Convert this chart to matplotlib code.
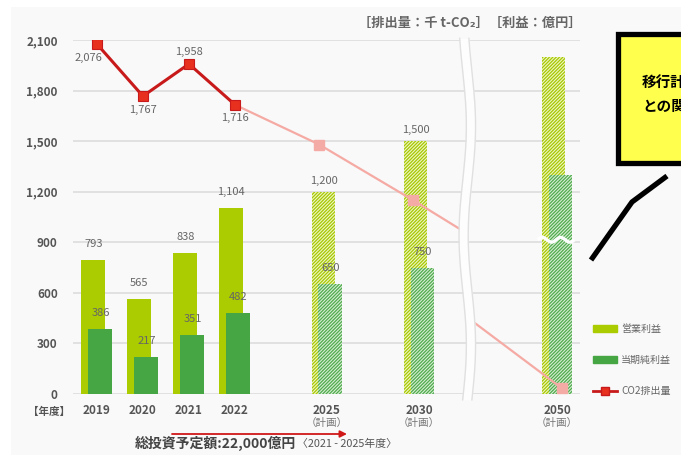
import numpy as np
import matplotlib
matplotlib.use("Agg")
import matplotlib.pyplot as plt
from matplotlib.patches import Rectangle, Patch
from matplotlib.lines import Line2D

plt.rcParams['font.family'] = ['Noto Sans CJK JP', 'DejaVu Sans']
plt.rcParams['hatch.linewidth'] = 0.9

# values (千 t-CO2 / 億円)
years = ['2019', '2020', '2021', '2022', '2025', '2030', '2050']
planned = [False, False, False, False, True, True, True]
op_profit = [793, 565, 838, 1104, 1200, 1500, 2000]
net_profit = [386, 217, 351, 482, 650, 750, 1300]
show_label = [True, True, True, True, True, True, False]
co2_actual = [2076, 1767, 1958, 1716]
co2_plan = [1716, 1480, 1150, 975, 430, 35]   # 2022 -> 2025 -> 2030 -> (break) -> 2050
co2_plan_marked = [False, True, True, False, False, True]

# layout
W, H = 681, 455
slots = [0, 1, 2, 3, 5, 7, 10]
co2_plan_x = [3, 4.83, 6.87, 7.91, 8.17, 10.1]
break_x = 8.05

LIGHT = '#aacc00'
DARK = '#47a644'
GRID = '#dddddd'
TXT = '#666666'


def fx(px):
    return px / W


def fy(py):
    return 1 - py / H


fig = plt.figure(figsize=(W / 100, H / 100), dpi=100)
fig.patch.set_facecolor('white')
fig.patches.append(Rectangle((fx(11), 0), 1, fy(7), transform=fig.transFigure,
                             facecolor='#f9f9f9', edgecolor='none', zorder=-10))

ax = fig.add_axes([fx(73), fy(394), fx(580) - fx(73), fy(40) - fy(394)])
ax.set_facecolor('none')
ax.set_xlim(-0.52, 10.5)
ax.set_ylim(0, 2100)
for s in ax.spines.values():
    s.set_visible(False)
ax.set_yticks(range(0, 2101, 300))
ax.set_yticklabels([f"{v:,}" for v in range(0, 2101, 300)])
ax.yaxis.grid(True, color=GRID, linewidth=1.2)
ax.set_axisbelow(True)
ax.tick_params(axis='y', length=0, pad=11, labelsize=8.5, labelcolor='#555555')
for t in ax.get_yticklabels():
    t.set_fontweight('bold')
ax.set_xticks(slots)
ax.set_xticklabels(years)
ax.tick_params(axis='x', length=0, pad=7, labelsize=8.5, labelcolor='#555555')
for t in ax.get_xticklabels():
    t.set_fontweight('bold')

bw = 0.52
off = 0.076
for i, p in enumerate(slots):
    if planned[i]:
        ax.bar(p - off, op_profit[i], bw, facecolor='#eef5c8', edgecolor='#a8c800',
               hatch='//////////', linewidth=0, zorder=2)
        ax.bar(p + off, net_profit[i], bw, facecolor='#d8edd6', edgecolor='#4fac4c',
               hatch='//////////', linewidth=0, zorder=3)
    else:
        ax.bar(p - off, op_profit[i], bw, color=LIGHT, linewidth=0, zorder=2)
        ax.bar(p + off, net_profit[i], bw, color=DARK, linewidth=0, zorder=3)
    if show_label[i]:
        ax.annotate(f"{op_profit[i]:,}", (p - off, op_profit[i]), xytext=(0, 11 if planned[i] else 16),
                    textcoords='offset pixels', ha='center', va='center', fontsize=8, color=TXT, zorder=6)
        ax.annotate(f"{net_profit[i]:,}", (p + off, net_profit[i]), xytext=(0, 16),
                    textcoords='offset pixels', ha='center', va='center', fontsize=8, color=TXT, zorder=6)

# break mark on the 2050 bars
wx = np.linspace(slots[-1] - 0.42, slots[-1] + 0.38, 60)
ax.plot(wx, 915 + 14 * np.sin((wx - wx[0]) / 0.4 * 2 * np.pi), color='white', lw=2.4, zorder=4,
        solid_capstyle='butt')

# CO2 emissions
ax.plot(co2_plan_x, co2_plan, color='#f5aaa4', lw=1.6, zorder=4, clip_on=False)
mx = [x for x, m in zip(co2_plan_x, co2_plan_marked) if m]
my = [y for y, m in zip(co2_plan, co2_plan_marked) if m]
ax.plot(mx, my, 's', ms=7, color='#f5aba5', zorder=5, clip_on=False)
ax.plot(slots[:4], co2_actual, color='#c81a1a', lw=2.2, zorder=5,
        marker='s', ms=7, mfc='#e8301f', mec='#c81a1a', mew=0.8)
co2_offsets = [(-8, -14), (0, -14), (0, 12), (0, -13)]
for p, v, o in zip(slots[:4], co2_actual, co2_offsets):
    ax.annotate(f"{v:,}", (p, v), xytext=o, textcoords='offset pixels',
                ha='center', va='center', fontsize=8, color=TXT, zorder=6)

# axis break between 2030 and 2050
by = np.linspace(-35, 2110, 200)
wave = 0.08 * np.sin((by + 35) / 1300 * 2 * np.pi)
ax.fill_betweenx(by, break_x - 0.1 + wave, break_x + 0.1 + wave, color='#fdfdfd', zorder=7, clip_on=False,
                 linewidth=0)
ax.plot(break_x - 0.1 + wave, by, color='#e0e0e0', lw=1, zorder=7, clip_on=False)
ax.plot(break_x + 0.1 + wave, by, color='#e0e0e0', lw=1, zorder=7, clip_on=False)

for i, p in enumerate(slots):
    if planned[i]:
        ax.annotate('（計画）', (p, 0), xycoords=('data', 'axes fraction'), xytext=(0, -29),
                    textcoords='offset pixels', ha='center', va='center', fontsize=7.6, color='#777777')

fig.text(fx(49), fy(412), '【年度】', ha='center', va='center', fontsize=7.6, fontweight='bold', color='#555555')
fig.text(fx(582), fy(23), '［排出量：千 t-CO₂］［利益：億円］', ha='right', va='center', fontsize=9.5,
         fontweight='bold', color='#666666')

# investment period arrow
ax.annotate('', xy=(347, H - 434), xycoords='figure pixels', xytext=(172, H - 434),
            textcoords='figure pixels',
            arrowprops=dict(arrowstyle='-|>', color='#d01818', lw=1.3, mutation_scale=10, shrinkA=0, shrinkB=0))
fig.text(fx(135), fy(443), '総投資予定額:22,000億円', ha='left', va='center', fontsize=10,
         fontweight='bold', color='#444444')
fig.text(fx(297), fy(444), '〈2021 - 2025年度〉', ha='left', va='center', fontsize=7.8, color='#555555')

# legend
handles = [Patch(color=LIGHT), Patch(color=DARK),
           Line2D([], [], color='#c81a1a', lw=2, marker='s', ms=6, mfc='#e8301f', mec='#c81a1a')]
leg = ax.legend(handles, ['営業利益', '当期純利益', 'CO2排出量'], loc='upper left',
                bbox_to_anchor=(fx(593), fy(324)), bbox_transform=fig.transFigure, frameon=False,
                fontsize=7.2, handlelength=2.4, handleheight=0.7, handletextpad=0.4, labelspacing=2.1,
                borderpad=0, borderaxespad=0)
for t in leg.get_texts():
    t.set_color(TXT)

# call-out box
fig.patches.append(Rectangle((fx(618), fy(163)), 0.2, fy(34) - fy(163), transform=fig.transFigure,
                             facecolor='#ffff4d', edgecolor='black', linewidth=3.8, zorder=10))
fig.text(fx(642), fy(82), '移行計画と実績', ha='left', va='center', fontsize=10.5, fontweight='bold',
         color='black', zorder=11)
fig.text(fx(642), fy(106), 'との関係性', ha='left', va='center', fontsize=10.5, fontweight='bold',
         color='black', zorder=11)
fig.lines.append(Line2D([fx(667), fx(632), fx(591)], [fy(176), fy(202), fy(260)],
                        transform=fig.transFigure, color='black', lw=3.8, solid_capstyle='butt', zorder=10))

fig.savefig('out.png', dpi=100)
